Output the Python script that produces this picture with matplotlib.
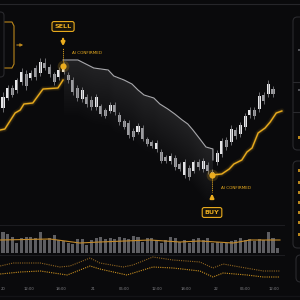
import numpy as np
import matplotlib
matplotlib.use("Agg")
import matplotlib.pyplot as plt
from matplotlib.patches import FancyBboxPatch, Rectangle
from matplotlib.transforms import blended_transform_factory

# ---- data (price units) ----
candle_open = [192, 202, 212, 210, 218, 226, 222, 232, 227, 237, 233, 226, 223, 228, 225,
               220, 212, 201, 203, 200, 193, 194, 190, 189, 195, 185, 179, 177, 169, 168,
               172, 161, 158, 151, 148, 143, 139, 142, 136, 125, 132, 129, 138, 131, 135,
               128, 138, 146, 160, 158, 170, 166, 173, 185, 190, 191, 205, 206, 211]
candle_close = [203, 212, 205, 220, 228, 214, 227, 223, 238, 232, 226, 218, 230, 232, 220,
                208, 202, 210, 196, 193, 203, 186, 184, 195, 188, 178, 173, 165, 163, 174,
                161, 156, 154, 157, 139, 139, 144, 133, 131, 138, 123, 138, 133, 139, 129,
                125, 147, 159, 153, 171, 164, 175, 184, 190, 184, 204, 199, 216, 206]
candle_high = [208, 215, 215, 222, 232, 230, 230, 235, 242, 242, 236, 228, 233, 238, 228,
               223, 215, 213, 206, 204, 206, 196, 192, 198, 198, 188, 181, 180, 172, 177,
               175, 163, 160, 160, 151, 145, 147, 145, 138, 141, 135, 140, 141, 142, 138,
               131, 150, 162, 163, 175, 173, 178, 187, 193, 193, 208, 208, 220, 214]
candle_low = [188, 200, 203, 207, 215, 210, 220, 220, 224, 230, 223, 215, 220, 226, 217,
              205, 199, 198, 193, 190, 190, 184, 182, 187, 185, 175, 171, 162, 160, 166,
              159, 154, 152, 148, 137, 137, 136, 130, 129, 122, 120, 127, 130, 128, 126,
              122, 135, 143, 150, 155, 161, 163, 170, 182, 181, 188, 196, 203, 203]

volume = [21, 19, 16, 10, 15, 16, 16, 15, 21, 13, 15, 18, 13, 12, 10, 9, 14, 14, 8, 13,
          15, 16, 14, 15, 14, 16, 15, 14, 17, 16, 11, 15, 15, 13, 10, 13, 16, 15, 11, 13,
          10, 14, 15, 13, 15, 10, 11, 10, 10, 12, 13, 15, 13, 14, 12, 14, 13, 21, 15, 5]
vol_ma_x = [-0.6, 10.1, 16.5, 20.8, 31.6, 38.0, 42.3, 49.4, 53.1, 59.5]
vol_ma = [13, 14, 10, 11, 13, 11, 12, 10, 13, 13]

# trailing stop lines
long_stop_x = [-0.6, 0.4, 2.6, 3.7, 4.5, 6.4, 8.6, 11.8, 12.9]
long_stop = [170, 171, 187, 190, 196, 197, 211, 212, 220]
long_stop2_x = [44.9, 47.0, 48.6, 49.6, 51.3, 52.4, 53.5, 54.8, 56.3, 57.4, 58.7, 59.9]
long_stop2 = [125, 126, 131, 136, 140, 148, 152, 167, 172, 178, 187, 189]
short_stop_x = [12.9, 16.1, 17.8, 19.5, 22.6, 23.8, 26.0, 27.7, 29.0, 30.3, 32.4, 33.7,
                35.4, 36.9, 38.5, 39.7, 40.8, 42.3, 43.6, 45.1, 45.1]
short_stop = [240, 240, 236, 232, 230, 224, 220, 216, 210, 205, 202, 196, 191, 186, 180,
              176, 170, 161, 153, 151, 140]

sell_x, sell_price = 12.9, 234
buy_x, buy_price = 44.9, 125

# oscillator panel
osc_fast_x = [-0.6, 2.2, 8.0, 12.2, 14.4, 18.7, 20.8, 25.8, 27.9, 32.2, 36.5, 42.3, 45.1,
              47.3, 50.9, 55.9, 59.5]
osc_fast = [17, 20, 20, 16, 17, 25, 20, 16, 18, 26, 23, 21, 15, 19, 16, 12, 12]
osc_slow_x = [-0.6, 3.7, 8.0, 13.8, 18.7, 20.8, 26.6, 32.2, 36.5, 42.3, 45.1, 47.3, 52.4,
              55.9, 59.5]
osc_slow = [9, 11, 12, 8, 17, 14, 8, 16, 15, 12, 6, 10, 8, 6, 6]

tick_pos = [-0.55, 5.6, 12.5, 19.3, 26.0, 33.1, 39.3, 45.8, 52.0, 58.2]
tick_labels = ["20", "12:00", "18:00", "21", "06:00", "12:00", "18:00", "22", "06:00", "12:00"]

# ---- style ----
BG = "#0a0a0c"
GOLD = "#eaac1e"
GOLD_DIM = "#b9861c"
GRID = "#1d1d21"
XLIM = (-0.644, 63.8)


def fpos(x, y):
    """pixel position -> figure fraction"""
    return x / 300, 1 - y / 300


fig = plt.figure(figsize=(3, 3), dpi=100, facecolor=BG)

ax = fig.add_axes([0, 78 / 300, 1, 217 / 300])
vax = fig.add_axes([0, 47 / 300, 1, 28 / 300])
oax = fig.add_axes([0, 17 / 300, 1, 28 / 300])
for a in (ax, vax, oax):
    a.set_facecolor("none")
    a.set_xlim(*XLIM)
    a.axis("off")
ax.set_ylim(78, 295)
vax.set_ylim(0, 28)
oax.set_ylim(0, 28)

# frame lines
fig.add_artist(plt.Line2D([0, 1], [1 - 4 / 300] * 2, color="#26262a", lw=0.8))
for yy in (225, 255):
    fig.add_artist(plt.Line2D([0, 284 / 300], [1 - yy / 300] * 2, color=GRID, lw=0.7))
fig.add_artist(plt.Line2D([0, 1], [1 - 296 / 300] * 2, color="#141417", lw=1.0))

# short stop (gray) with fading fill underneath
sx = np.array(short_stop_x)
sp = np.array(short_stop, dtype=float)
for k in range(1, 24):
    ax.fill_between(sx, sp - k * 2.4, sp, color="#a0a0a6", alpha=0.0075, lw=0)
ax.plot(sx, sp, color="#a9a9ad", lw=0.8)

# candles
x = np.arange(len(candle_open))
o = np.array(candle_open)
c = np.array(candle_close)
bull = c >= o
ax.vlines(x, candle_low, candle_high, color="#7a7a7e", lw=0.6)
ax.bar(x, np.abs(c - o), bottom=np.minimum(o, c), width=0.65,
       color=np.where(bull, "#e6e6e8", "#9c9ca0"), lw=0)

# long stops (gold with glow)
for xs, ys in ((long_stop_x, long_stop), (long_stop2_x, long_stop2)):
    ax.plot(xs, ys, color=GOLD, lw=4.0, alpha=0.08, solid_capstyle="round")
    ax.plot(xs, ys, color=GOLD, lw=2.2, alpha=0.18, solid_capstyle="round")
    ax.plot(xs, ys, color=GOLD, lw=1.0)

# signal dots
for sx_, sy_ in ((sell_x, sell_price), (buy_x, buy_price)):
    ax.scatter([sx_], [sy_], s=70, color=GOLD, alpha=0.2, lw=0, zorder=5)
    ax.scatter([sx_], [sy_], s=20, color=GOLD, lw=0, zorder=6)

# sell annotation
ax.plot([sell_x, sell_x], [sell_price + 3, 252], color=GOLD, lw=0.7, ls=(0, (1, 1)))
ax.annotate("", xy=(sell_x, 251), xytext=(sell_x, 264),
            arrowprops=dict(arrowstyle="-|>", color=GOLD, lw=1.6, mutation_scale=5))
ax.text(sell_x, 273.5, "SELL", color=GOLD, fontsize=4.6, fontweight="bold",
        ha="center", va="center",
        bbox=dict(boxstyle="round,pad=0.38,rounding_size=0.3", fc="#17130a", ec=GOLD, lw=0.8))
ax.text(sell_x + 2.0, 247, "AI CONFIRMED", color=GOLD, fontsize=3.0, ha="left", va="center")

# buy annotation
ax.plot([buy_x, buy_x], [buy_price - 3, 108], color=GOLD, lw=0.7, ls=(0, (1, 1)))
ax.annotate("", xy=(buy_x, 109), xytext=(buy_x, 99),
            arrowprops=dict(arrowstyle="-|>", color=GOLD, lw=1.6, mutation_scale=5))
ax.text(buy_x, 87.5, "BUY", color=GOLD, fontsize=4.6, fontweight="bold",
        ha="center", va="center",
        bbox=dict(boxstyle="round,pad=0.38,rounding_size=0.3", fc="#17130a", ec=GOLD, lw=0.8))
ax.text(buy_x + 2.0, 112, "AI CONFIRMED", color=GOLD, fontsize=3.0, ha="left", va="center")

# volume
vax.bar(np.arange(len(volume)), volume, width=0.65, color="#5e5e62", lw=0)
vax.plot(vol_ma_x, vol_ma, color="#c38a2a", lw=0.8)

# oscillator
oax.plot(osc_fast_x, osc_fast, color="#8e6421", lw=0.8, ls=(0, (1, 1)))
oax.plot(osc_slow_x, osc_slow, color="#c98f1f", lw=0.8, ls=(0, (1, 1)))

# time labels (first one left-aligned so it stays on the canvas)
tr = blended_transform_factory(oax.transData, fig.transFigure)
for i, (tp, tl) in enumerate(zip(tick_pos, tick_labels)):
    oax.text(tp, 1 - 289 / 300, tl, transform=tr, color="#85858a", fontsize=2.7,
             ha="left" if i == 0 else "center", va="center", clip_on=False)

# left bracket widget
fig.patches.append(FancyBboxPatch(fpos(-12, 77), 16 / 300, 65 / 300,
                                  boxstyle="round,pad=0,rounding_size=0.012",
                                  transform=fig.transFigure, fill=False, ec="#2a2a2e", lw=0.8))
bx = [5 / 300, 12 / 300, 14 / 300, 14 / 300, 12 / 300, 5 / 300]
by = [1 - 22 / 300, 1 - 22 / 300, 1 - 26 / 300, 1 - 64 / 300, 1 - 68 / 300, 1 - 68 / 300]
fig.add_artist(plt.Line2D(bx, by, color=GOLD_DIM, lw=0.8))
fig.add_artist(matplotlib.patches.FancyArrowPatch(fpos(14, 45), fpos(26, 45),
                                                  transform=fig.transFigure,
                                                  arrowstyle="-|>", mutation_scale=4,
                                                  color=GOLD_DIM, lw=0.8))

# right side panels (mostly cropped)
for (x0, y0, x1, y1) in ((293, 17, 330, 150), (293, 161, 330, 248), (296, 255, 330, 282)):
    fig.patches.append(FancyBboxPatch(fpos(x0, y1), (x1 - x0) / 300, (y1 - y0) / 300,
                                      boxstyle="round,pad=0,rounding_size=0.015",
                                      transform=fig.transFigure, fill=False,
                                      ec="#2a2a2e", lw=0.8))
for yy in (82, 112):
    fig.add_artist(plt.Line2D([293 / 300, 1], [1 - yy / 300] * 2, color="#2a2a2e", lw=0.8))
for yy in (50, 90):
    fig.patches.append(Rectangle(fpos(298, yy + 1), 3 / 300, 2 / 300,
                                 transform=fig.transFigure, color="#55555a", lw=0))
for yy in (137, 170, 182, 192, 202, 212, 222, 234):
    fig.patches.append(Rectangle(fpos(298, yy + 1.5), 3 / 300, 3 / 300,
                                 transform=fig.transFigure, color=GOLD_DIM, lw=0))

fig.savefig("out.png", dpi=100, facecolor=BG)
